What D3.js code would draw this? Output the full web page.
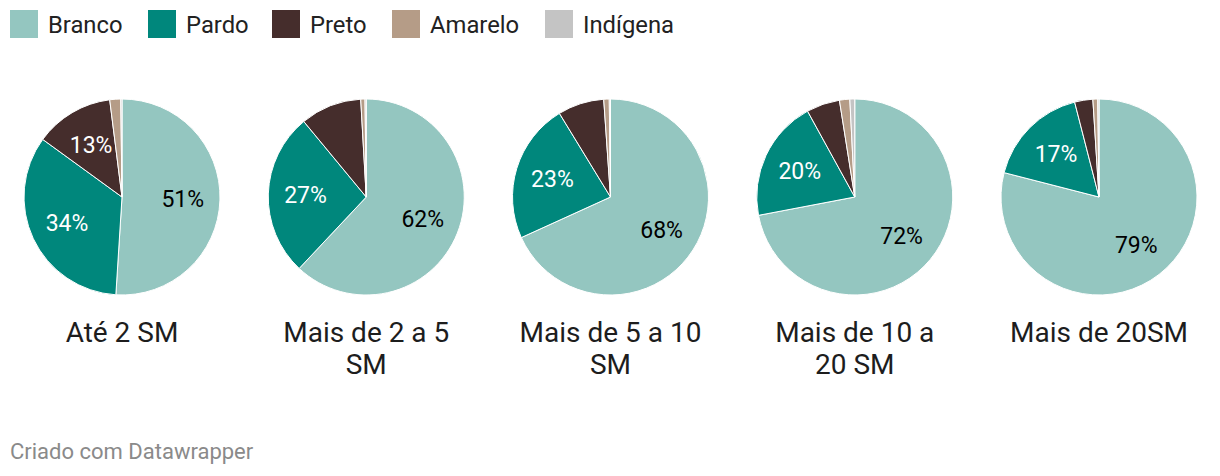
<!DOCTYPE html>
<html>
<head>
<meta charset="utf-8">
<script src="https://cdn.jsdelivr.net/npm/d3@7"></script>
<style>
  body { margin: 0; background: #fff; font-family: Roboto, "Noto Sans", sans-serif; }
</style>
</head>
<body>
<div id="chart"></div>
<script>
// data
const groups = ['Branco', 'Pardo', 'Preto', 'Amarelo', 'Indígena'];
const colors = ['#94c6c0', '#00877c', '#452d2c', '#b59c87', '#c4c4c4'];
const categories = ['Até 2 SM', 'Mais de 2 a 5 SM', 'Mais de 5 a 10 SM', 'Mais de 10 a 20 SM', 'Mais de 20SM'];
const branco   = [51, 62, 68, 72, 79];
const pardo    = [34, 27, 23, 20, 17];
const preto    = [13, 10.1, 7.6, 5.5, 3];
const amarelo  = [1.8, 0.7, 0.9, 1.7, 0.8];
const indigena = [0.2, 0.2, 0.2, 0.8, 0.2];
const series = [branco, pardo, preto, amarelo, indigena];

const width = 1220, height = 476;
const svg = d3.select('#chart').append('svg')
  .attr('width', width).attr('height', height);

const color = d3.scaleOrdinal(groups, colors);

// legend
const legendX = [10, 148, 272, 392, 545];
const legend = svg.append('g');
groups.forEach((g, i) => {
  const it = legend.append('g').attr('transform', `translate(${legendX[i]},10)`);
  it.append('rect').attr('width', 28).attr('height', 28).attr('fill', color(g));
  it.append('text').attr('x', 38).attr('y', 23)
    .attr('font-size', 23.8).attr('fill', '#222').text(g);
});

// pies
const x = d3.scalePoint(categories, [122, 1099]);
const radius = 98, cy = 197;
const pie = d3.pie().sort(null).value(d => d.value);
const arc = d3.arc().innerRadius(0).outerRadius(radius);
const labelArc = d3.arc().innerRadius(radius * 0.62).outerRadius(radius * 0.62);
const dark = new Set(['Pardo', 'Preto']);

function wrap(text, maxW) {
  const words = text.text().split(' ');
  text.text(null);
  let line = [];
  let tspan = text.append('tspan').attr('x', 0).attr('dy', 0);
  words.forEach(w => {
    line.push(w);
    tspan.text(line.join(' '));
    if (tspan.node().getComputedTextLength() > maxW && line.length > 1) {
      line.pop();
      tspan.text(line.join(' '));
      line = [w];
      tspan = text.append('tspan').attr('x', 0).attr('dy', 32).text(w);
    }
  });
}

categories.forEach((cat, ci) => {
  const data = groups.map((g, gi) => ({ name: g, value: series[gi][ci] }));
  const g = svg.append('g').attr('transform', `translate(${x(cat)},${cy})`);
  const arcs = pie(data);

  g.selectAll('path').data(arcs).join('path')
    .attr('d', arc)
    .attr('fill', d => color(d.data.name))
    .attr('stroke', '#fff').attr('stroke-width', 1);

  g.selectAll('text.val').data(arcs.filter(d => d.data.value >= 12)).join('text')
    .attr('class', 'val')
    .attr('transform', d => `translate(${labelArc.centroid(d)})`)
    .attr('text-anchor', 'middle').attr('dy', '0.35em')
    .attr('font-size', 23)
    .attr('fill', d => dark.has(d.data.name) ? '#fff' : '#000')
    .text(d => Math.round(d.data.value) + '%');

  svg.append('text')
    .attr('transform', `translate(${x(cat)},342)`)
    .attr('text-anchor', 'middle')
    .attr('font-size', 28).attr('fill', '#1d1d1d')
    .text(cat)
    .call(wrap, 186);
});

// footer
svg.append('text').attr('x', 10).attr('y', 459)
  .attr('font-size', 22).attr('fill', '#8a8a8a')
  .text('Criado com Datawrapper');
</script>
</body>
</html>
